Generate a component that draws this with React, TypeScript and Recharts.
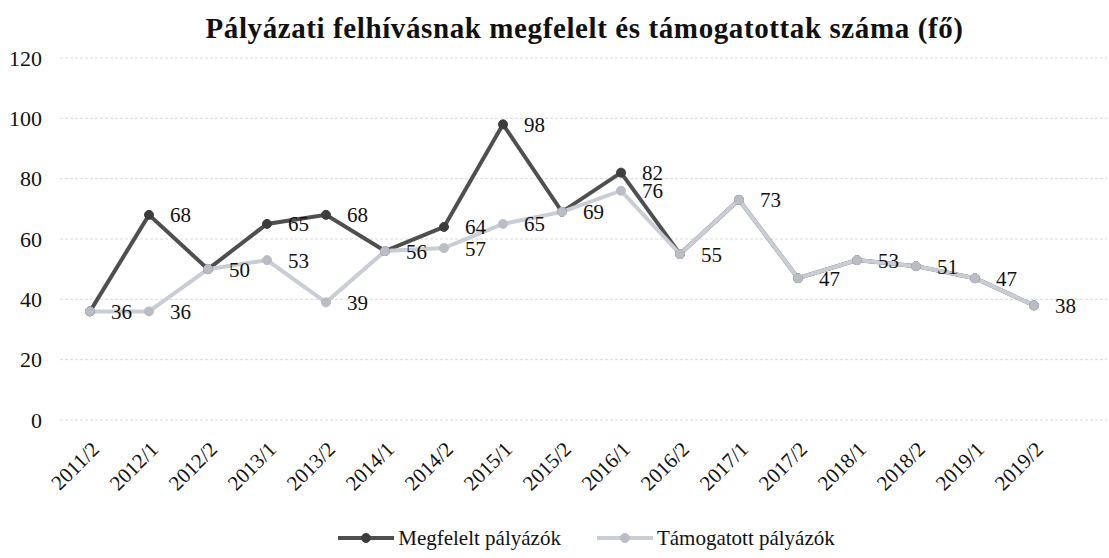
import {LineChart, Line, XAxis, YAxis, CartesianGrid, Legend, LabelList} from 'recharts';

const periods = [
    '2011/2', '2012/1', '2012/2', '2013/1', '2013/2', '2014/1', '2014/2', '2015/1', '2015/2',
    '2016/1', '2016/2', '2017/1', '2017/2', '2018/1', '2018/2', '2019/1', '2019/2',
];
const megfelelt = [36, 68, 50, 65, 68, 56, 64, 98, 69, 82, 55, 73, 47, 53, 51, 47, 38];
const tamogatott = [36, 36, 50, 53, 39, 56, 57, 65, 69, 76, 55, 73, 47, 53, 51, 47, 38];
const yTicks = [0, 20, 40, 60, 80, 100, 120];

const FONT = "'Liberation Serif', 'Times New Roman', serif";
const DARK = '#4f4f4f';
const LIGHT = '#c9cdd5';

// the dark label is hidden where both series have the same value (one label covers both)
const chartData = periods.map((p, i) => ({
    period: p,
    megfelelt: megfelelt[i],
    tamogatott: tamogatott[i],
    megfeleltLabel: megfelelt[i] !== tamogatott[i] ? megfelelt[i] : null,
}));

function LegendIcon({color, dot}: {color: string; dot: string}) {
    return (
        <svg width={56} height={12} style={{marginRight: 4}}>
            <line x1={0} y1={6} x2={56} y2={6} stroke={color} strokeWidth={4}/>
            <circle cx={28} cy={6} r={4.5} fill={dot} stroke={dot}/>
        </svg>
    );
}

function ChartLegend() {
    return (
        <div style={{
            display: 'flex', justifyContent: 'center', alignItems: 'center', height: 30,
            fontFamily: FONT, fontSize: 21, color: '#111', paddingLeft: 66,
        }}>
            <div style={{display: 'flex', alignItems: 'center', marginRight: 36}}>
                <LegendIcon color={DARK} dot="#3c3c3c"/>
                <span>Megfelelt pályázók</span>
            </div>
            <div style={{display: 'flex', alignItems: 'center'}}>
                <LegendIcon color={LIGHT} dot="#b9bdc6"/>
                <span>Támogatott pályázók</span>
            </div>
        </div>
    );
}

export default function App() {
    return (
        <div style={{position: 'absolute', left: 0, top: 0, width: 1109, height: 558, background: '#fff'}}>
            <div style={{
                position: 'absolute', top: 12, left: 0, width: 1109, paddingLeft: 60, boxSizing: 'border-box',
                textAlign: 'center', fontFamily: FONT, fontWeight: 'bold', fontSize: 29, color: '#111',
                letterSpacing: 0.6,
            }}>
                Pályázati felhívásnak megfelelt és támogatottak száma (fő)
            </div>
            <LineChart width={1109} height={558} data={chartData}
                       margin={{top: 58, right: 2, left: 0, bottom: 5}}>
                <CartesianGrid vertical={false} stroke="#dadada" strokeDasharray="3 2"/>
                <XAxis dataKey="period" interval={0} axisLine={false} tickLine={false} tickSize={0}
                       padding={{left: 30, right: 73}} height={103} angle={-45} textAnchor="end"
                       tickMargin={20} tick={{fontFamily: FONT, fontSize: 21, fill: '#111'}}/>
                <YAxis domain={[0, 120]} ticks={yTicks} width={60} axisLine={false} tickLine={false}
                       tickSize={0} tickMargin={18} tick={{fontFamily: FONT, fontSize: 22, fill: '#111'}}/>
                <Legend verticalAlign="bottom" content={() => <ChartLegend/>}/>
                <Line type="linear" dataKey="megfelelt" stroke={DARK} strokeWidth={4}
                      dot={{r: 4.5, fill: '#3c3c3c', stroke: '#3c3c3c', strokeWidth: 1}}
                      isAnimationActive={false}>
                    <LabelList dataKey="megfeleltLabel" position="right" offset={21}
                               style={{fontFamily: FONT, fontSize: 21, fill: '#111'}}/>
                </Line>
                <Line type="linear" dataKey="tamogatott" stroke={LIGHT} strokeWidth={4}
                      dot={{r: 4.5, fill: '#b9bdc6', stroke: '#b9bdc6', strokeWidth: 1}}
                      isAnimationActive={false}>
                    <LabelList dataKey="tamogatott" position="right" offset={21}
                               style={{fontFamily: FONT, fontSize: 21, fill: '#111'}}/>
                </Line>
            </LineChart>
        </div>
    );
}
